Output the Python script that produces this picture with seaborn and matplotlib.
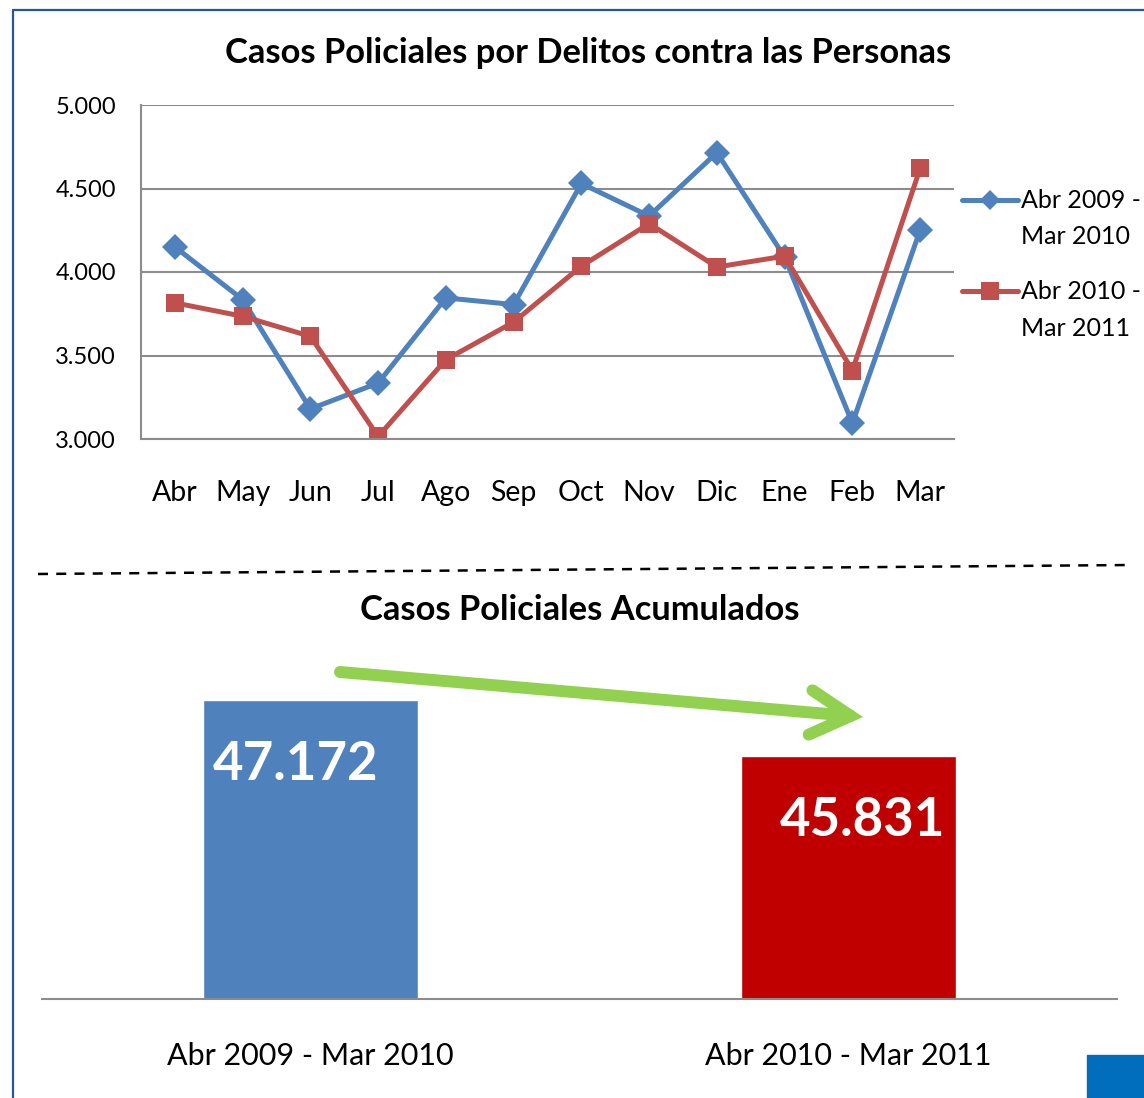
import seaborn as sns
import matplotlib.pyplot as plt
import pandas as pd
from matplotlib.lines import Line2D
from matplotlib.patches import FancyArrowPatch, Rectangle

# Data
meses = ['Abr', 'May', 'Jun', 'Jul', 'Ago', 'Sep', 'Oct', 'Nov', 'Dic', 'Ene', 'Feb', 'Mar']
casos_2009 = [4150, 3835, 3180, 3335, 3845, 3805, 4530, 4335, 4715, 4090, 3095, 4250]
casos_2010 = [3815, 3735, 3615, 3015, 3475, 3700, 4035, 4290, 4030, 4095, 3410, 4620]
periodos = ['Abr 2009 - Mar 2010', 'Abr 2010 - Mar 2011']
leyenda = ['Abr 2009 -\nMar 2010', 'Abr 2010 -\nMar 2011']
acumulados = [47172, 45831]
etiquetas = ['47.172', '45.831']

azul, rojo = '#4F81BD', '#C0504D'
barras = ['#4F81BD', '#C00000']

sns.set_style('white')
plt.rcParams['font.family'] = ['Lato', 'DejaVu Sans']
plt.rcParams['text.color'] = 'black'
plt.rcParams['xtick.color'] = 'black'
plt.rcParams['ytick.color'] = 'black'

W, H = 1144, 1098
fig = plt.figure(figsize=(W / 100, H / 100), dpi=100)


def px(x, y):
    return x / W, 1 - y / H


# ---- Line chart ----
df = pd.DataFrame({
    'Mes': meses * 2,
    'Casos': casos_2009 + casos_2010,
    'Periodo': [periodos[0]] * 12 + [periodos[1]] * 12,
})
ax1 = fig.add_axes([141 / W, 1 - 439 / H, 813 / W, 334 / H])
sns.lineplot(data=df, x='Mes', y='Casos', hue='Periodo', style='Periodo',
             palette=[azul, rojo], markers=['D', 's'], dashes=False, sort=False,
             linewidth=3.6, markersize=13, markeredgewidth=0, legend=False, ax=ax1)
ax1.set_xlim(-0.5, 11.5)
ax1.set_ylim(3000, 5000)
ax1.set_yticks([3000, 3500, 4000, 4500, 5000])
ax1.set_yticklabels(['3.000', '3.500', '4.000', '4.500', '5.000'])
ax1.yaxis.grid(True, color='#8C8C8C', linewidth=1.5)
ax1.set_axisbelow(True)
ax1.set_xlabel('')
ax1.set_ylabel('')
for s in ['top', 'right']:
    ax1.spines[s].set_visible(False)
for s in ['left', 'bottom']:
    ax1.spines[s].set_color('#8C8C8C')
    ax1.spines[s].set_linewidth(1.5)
ax1.tick_params(axis='y', length=0, pad=18, labelsize=17)
ax1.tick_params(axis='x', length=0, pad=29.5, labelsize=20.5)
ax1.patch.set_alpha(0)

fig.text(*px(588, 53), 'Casos Policiales por Delitos contra las Personas',
         ha='center', va='center', fontsize=24.8, fontweight='bold')

# manual legend
for color, mk, ms, lab, y in [(azul, 'D', 10, leyenda[0], 200), (rojo, 's', 13, leyenda[1], 291)]:
    x0, y0 = px(962, y)
    x1, _ = px(1018, y)
    fig.add_artist(Line2D([x0, x1], [y0, y0], color=color, linewidth=3.6,
                          solid_capstyle='round', transform=fig.transFigure))
    fig.add_artist(Line2D([(x0 + x1) / 2], [y0], color=color, marker=mk, markersize=ms,
                          markeredgewidth=0, transform=fig.transFigure))
    for k, parte in enumerate(lab.split('\n')):
        fig.text(*px(1021, y + 1 + 36 * k), parte, ha='left', va='center', fontsize=18)

# ---- Separator ----
fig.add_artist(Line2D([38 / W, 1130 / W], [1 - 574 / H, 1 - 565 / H], color='black',
                      linewidth=1.8, linestyle=(0, (4, 3.3)), transform=fig.transFigure))

# ---- Bar chart ----
ax2 = fig.add_axes([42 / W, 1 - 999 / H, 1075 / W, 359 / H])
sns.barplot(x=periodos, y=acumulados, hue=periodos, palette=barras, width=0.4,
            legend=False, ax=ax2, saturation=1)
ax2.set_xlim(-0.5, 1.5)
ax2.set_ylim(40000, 48600)
ax2.set_yticks([])
for s in ['top', 'right', 'left']:
    ax2.spines[s].set_visible(False)
ax2.spines['bottom'].set_color('#8C8C8C')
ax2.spines['bottom'].set_linewidth(1.5)
ax2.tick_params(axis='x', length=0, pad=31, labelsize=22)
ax2.patch.set_alpha(0)

offsets = [(-11, -47), (10, -47)]
for i, (v, t) in enumerate(zip(acumulados, etiquetas)):
    ax2.annotate(t, (i, v), xytext=offsets[i], textcoords='offset points',
                 ha='center', va='center', color='white', fontsize=38, fontweight='bold')

fig.text(*px(580, 610), 'Casos Policiales Acumulados',
         ha='center', va='center', fontsize=24.8, fontweight='bold')

# green arrow
arrow = FancyArrowPatch(px(340, 672), px(863, 717), transform=fig.transFigure,
                        arrowstyle='->,head_length=2.9,head_width=1.6', mutation_scale=10,
                        shrinkA=0, shrinkB=0,
                        color='#92D050', linewidth=8.6, capstyle='round', joinstyle='miter')
fig.add_artist(arrow)

# frame decorations
fig.add_artist(Line2D([12.5 / W, 12.5 / W], [0, 1 - 10 / H], color='#2A5597', linewidth=1.6,
                      transform=fig.transFigure))
fig.add_artist(Line2D([12.5 / W, 1], [1 - 10 / H, 1 - 10 / H], color='#2A5597', linewidth=1.6,
                      transform=fig.transFigure))
fig.add_artist(Rectangle(px(1087, 1098), 57 / W, 43 / H, color='#006EBD',
                         transform=fig.transFigure))

fig.savefig('out.png', dpi=100)
